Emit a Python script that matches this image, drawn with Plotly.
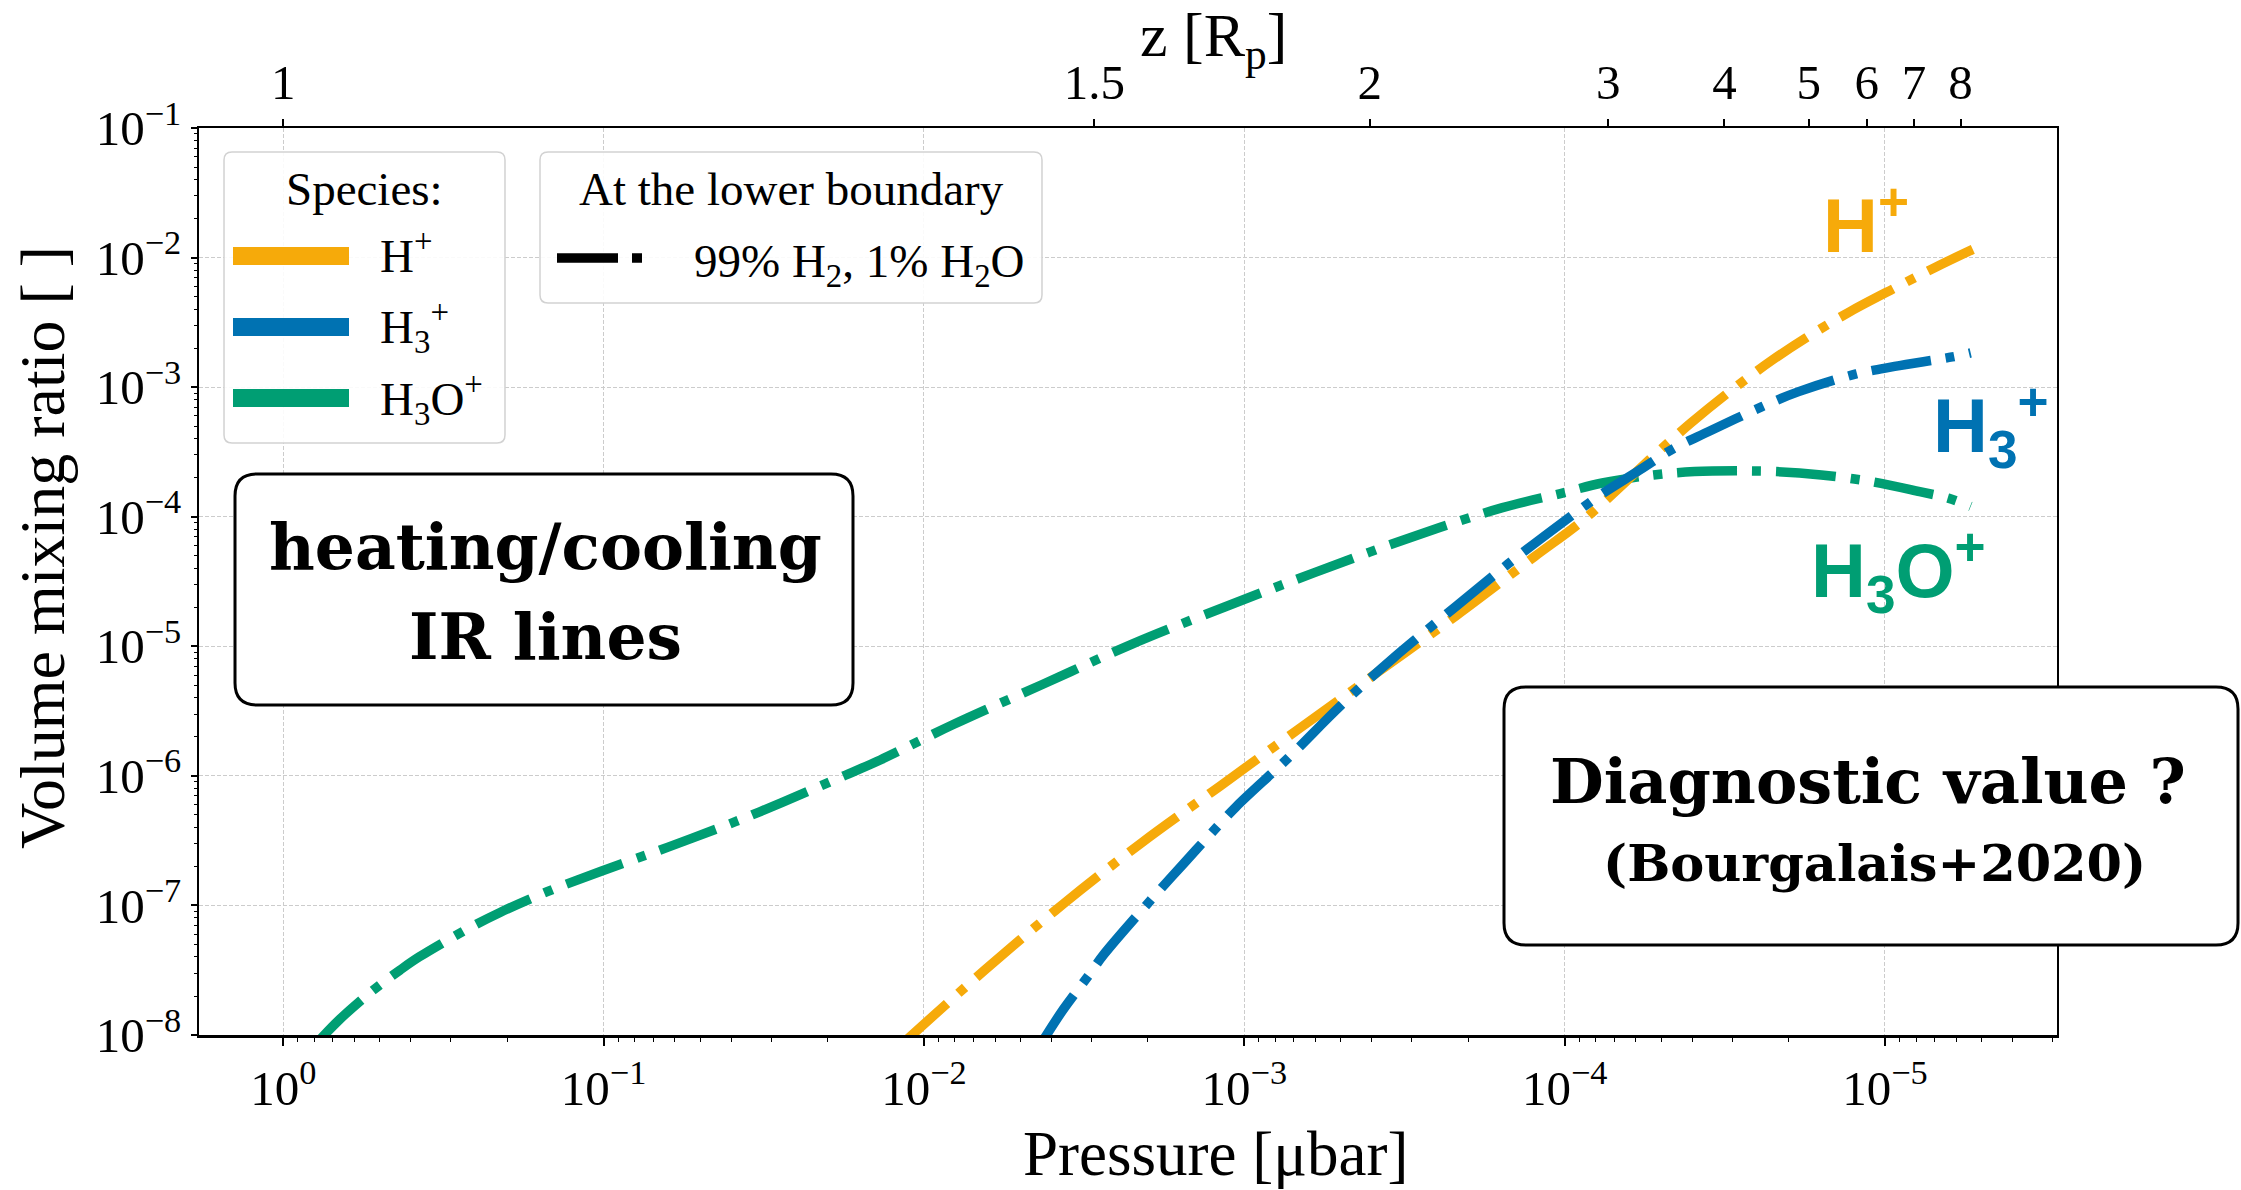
import plotly.graph_objects as go

# ---------------- data ----------------
# H3O+ (green)
p_h3o = [0.779, 0.667, 0.525, 0.432, 0.376, 0.267, 0.2105, 0.150, 0.1018, 0.0629, 0.0388, 0.0278,
         0.0180, 0.01369, 0.0081, 0.00427, 0.00225, 0.001146, 6.04e-4, 3.07e-4, 1.563e-4, 1.03e-4,
         7.63e-5, 5.28e-5, 3.93e-5, 2.92e-5, 2.18e-5, 1.58e-5, 1.108e-5, 7.79e-6, 6.35e-6, 5.40e-6]
vmr_h3o = [8.86e-9, 1.318e-8, 2.21e-8, 3.17e-8, 4.01e-8, 6.55e-8, 8.83e-8, 1.276e-7, 1.837e-7, 2.82e-7, 4.43e-7, 6.22e-7,
           9.88e-7, 1.327e-6, 2.49e-6, 5.07e-6, 1.035e-5, 2.02e-5, 3.70e-5, 6.83e-5, 1.175e-4, 1.51e-4,
           1.82e-4, 2.10e-4, 2.23e-4, 2.26e-4, 2.23e-4, 2.10e-4, 1.87e-4, 1.56e-4, 1.39e-4, 1.20e-4]

# H+ (orange)
p_hp = [1.169e-2, 6.45e-3, 3.67e-3, 2.09e-3, 1.187e-3, 6.78e-4, 3.85e-4, 2.19e-4, 1.245e-4, 8.87e-5,
        6.32e-5, 5.28e-5, 4.05e-5, 3.01e-5, 2.25e-5, 1.675e-5, 1.285e-5, 9.32e-6, 6.95e-6, 5.32e-6]
vmr_hp = [8.55e-9, 3.18e-8, 1.028e-7, 3.05e-7, 8.38e-7, 2.29e-6, 6.25e-6, 1.71e-5, 4.90e-5, 9.15e-5,
          1.945e-4, 2.94e-4, 5.25e-4, 9.50e-4, 1.614e-3, 2.60e-3, 3.83e-3, 5.82e-3, 8.43e-3, 1.157e-2]

# H3+ (blue)
p_h3p = [4.33e-3, 3.67e-3, 3.05e-3, 2.75e-3, 1.965e-3, 1.55e-3, 1.213e-3, 1.061e-3, 7.28e-4, 5.01e-4,
         3.44e-4, 2.19e-4, 1.503e-4, 1.03e-4, 7.73e-5, 5.93e-5, 4.55e-5, 3.55e-5, 2.42e-5, 1.86e-5,
         1.23e-5, 9.33e-6, 6.17e-6, 5.40e-6]
vmr_h3p = [8.4e-9, 1.58e-8, 2.92e-8, 4.16e-8, 1.09e-7, 2.09e-7, 4.06e-7, 5.77e-7, 1.38e-6, 3.47e-6,
           8.04e-6, 2.02e-5, 4.31e-5, 8.79e-5, 1.472e-4, 2.23e-4, 3.38e-4, 4.54e-4, 7.07e-4, 9.23e-4,
           1.264e-3, 1.445e-3, 1.710e-3, 1.837e-3]

# axis ticks
x_tick_vals = [1, 1e-1, 1e-2, 1e-3, 1e-4, 1e-5]
x_tick_text = ["10<sup>0</sup>", "10<sup>−1</sup>", "10<sup>−2</sup>", "10<sup>−3</sup>",
               "10<sup>−4</sup>", "10<sup>−5</sup>"]
y_tick_vals = [1e-8, 1e-7, 1e-6, 1e-5, 1e-4, 1e-3, 1e-2, 1e-1]
y_tick_text = ["10<sup>−8</sup>", "10<sup>−7</sup>", "10<sup>−6</sup>", "10<sup>−5</sup>",
               "10<sup>−4</sup>", "10<sup>−3</sup>", "10<sup>−2</sup>", "10<sup>−1</sup>"]
z_tick_labels = ["1", "1.5", "2", "3", "4", "5", "6", "7", "8"]
z_tick_pressure = [1.0, 2.94e-3, 4.06e-4, 7.31e-5, 3.17e-5, 1.73e-5, 1.14e-5, 8.11e-6, 5.81e-6]

species_names = ["H<sup>+</sup>", "H<sub>3</sub><sup>+</sup>", "H<sub>3</sub>O<sup>+</sup>"]
colors = {"hp": "#F6AA0A", "h3p": "#0072B2", "h3o": "#009E73"}

# ---------------- geometry ----------------
W, H = 2241, 1190
X0, X1, Y0, Y1 = 199, 2057, 128, 1035


def fx(x):
    return (x - X0) / (X1 - X0)


def fy(y):
    return (Y1 - y) / (Y1 - Y0)


def rrect(x0, y0, x1, y1, r):
    def P(x, y):
        return f"{fx(x):.5f},{fy(y):.5f}"
    return (f"M {P(x0 + r, y0)} L {P(x1 - r, y0)} Q {P(x1, y0)} {P(x1, y0 + r)} "
            f"L {P(x1, y1 - r)} Q {P(x1, y1)} {P(x1 - r, y1)} L {P(x0 + r, y1)} "
            f"Q {P(x0, y1)} {P(x0, y1 - r)} L {P(x0, y0 + r)} Q {P(x0, y0)} {P(x0 + r, y0)} Z")


DASH = "60px,15px,9px,15px"
LW = 9.5

fig = go.Figure()
for P, V, c, nm in [(p_h3o, vmr_h3o, colors["h3o"], "H3O+"),
                    (p_hp, vmr_hp, colors["hp"], "H+"),
                    (p_h3p, vmr_h3p, colors["h3p"], "H3+")]:
    fig.add_trace(go.Scatter(x=P, y=V, mode="lines", name=nm, showlegend=False, hoverinfo="skip",
                             line=dict(color=c, width=LW, dash=DASH, shape="spline", smoothing=1.0)))

# invisible trace on the top (z) axis
fig.add_trace(go.Scatter(x=z_tick_pressure, y=[None] * len(z_tick_pressure), xaxis="x2", yaxis="y",
                         mode="lines", showlegend=False, hoverinfo="skip"))

minor_x = [m * 10 ** k for k in range(-6, 1) for m in range(2, 10)]
minor_y = [m * 10 ** k for k in range(-8, -1) for m in range(2, 10)]

serif = "Liberation Serif"
tickfont = dict(family=serif, size=49, color="black")
grid = dict(showgrid=True, gridcolor="#cccccc", gridwidth=1, griddash="4px,2px")

fig.update_layout(
    width=W, height=H,
    margin=dict(l=X0, r=W - X1, t=Y0, b=H - Y1),
    paper_bgcolor="white", plot_bgcolor="white",
    showlegend=False,
    font=dict(family=serif, color="black"),
    xaxis=dict(type="log", range=[0.263, -5.537], tickmode="array", tickvals=x_tick_vals,
               ticktext=x_tick_text, ticks="outside", ticklen=8, tickwidth=1.5, tickcolor="black",
               showline=True, linecolor="black", linewidth=3, zeroline=False, tickfont=tickfont,
               minor=dict(tickmode="array", tickvals=minor_x, ticks="outside", ticklen=4,
                          tickcolor="black", tickwidth=1, showgrid=False), **grid),
    xaxis2=dict(type="log", overlaying="x", side="top", anchor="y", range=[0.263, -5.537],
                tickmode="array", tickvals=z_tick_pressure, ticktext=z_tick_labels,
                ticks="outside", ticklen=7, tickwidth=1.5, tickcolor="black",
                showline=True, linecolor="black", linewidth=2, showgrid=False, zeroline=False,
                tickfont=tickfont),
    yaxis=dict(type="log", range=[-8, -1], tickmode="array", tickvals=y_tick_vals, ticktext=y_tick_text,
               ticks="outside", ticklen=6, tickwidth=1.5, tickcolor="black",
               showline=True, linecolor="black", linewidth=2, mirror=True, zeroline=False,
               tickfont=tickfont,
               minor=dict(tickmode="array", tickvals=minor_y, ticks="outside", ticklen=3,
                          tickcolor="black", tickwidth=1, showgrid=False), **grid),
)

shapes = []
annos = []


def text(t, x, y, size, family=serif, color="black", xanchor="center", yanchor="middle", angle=0):
    annos.append(dict(text=t, x=fx(x), y=fy(y), xref="paper", yref="paper", showarrow=False,
                      xanchor=xanchor, yanchor=yanchor, textangle=angle,
                      font=dict(family=family, size=size, color=color)))


# legend boxes
shapes.append(dict(type="path", path=rrect(224, 152, 505, 443, 8), xref="paper", yref="paper",
                   line=dict(color="#d2d2d2", width=1.5), fillcolor="rgba(255,255,255,0.9)", layer="above"))
shapes.append(dict(type="path", path=rrect(540, 152, 1042, 303, 8), xref="paper", yref="paper",
                   line=dict(color="#d2d2d2", width=1.5), fillcolor="rgba(255,255,255,0.9)", layer="above"))
text("Species:", 364, 189, 47)
text("At the lower boundary", 791, 189, 47)
for name, c, yc, ym in [(species_names[0], colors["hp"], 256, 252.6),
                        (species_names[1], colors["h3p"], 327, 327),
                        (species_names[2], colors["h3o"], 398, 399)]:
    shapes.append(dict(type="line", x0=fx(233), x1=fx(349), y0=fy(yc), y1=fy(yc), xref="paper",
                       yref="paper", line=dict(color=c, width=18), layer="above"))
    text(name, 378, ym, 47, xanchor="left")
shapes.append(dict(type="line", x0=fx(557), x1=fx(642), y0=fy(258), y1=fy(258), xref="paper",
                   yref="paper", line=dict(color="black", width=9.5, dash="61px,14px,10px,200px"),
                   layer="above"))
text("99% H<sub>2</sub>, 1% H<sub>2</sub>O", 692, 264.5, 47, xanchor="left")

# text boxes
shapes.append(dict(type="path", path=rrect(235, 474, 853, 705, 22), xref="paper", yref="paper",
                   line=dict(color="black", width=3), fillcolor="white", layer="above"))
bold = "DejaVu Serif"
text("<b>heating/cooling</b>", 545, 547, 63, family=bold)
text("<b>IR lines</b>", 545, 637, 63, family=bold)
shapes.append(dict(type="path", path=rrect(1504, 687, 2238, 945, 22), xref="paper", yref="paper",
                   line=dict(color="black", width=3), fillcolor="white", layer="above"))
text("<b>Diagnostic value ?</b>", 1868, 781, 62, family=bold)
text("<b>(Bourgalais+2020)</b>", 1874, 863, 51, family=bold)

# species labels on the curves
sans = "Liberation Sans"
text("<b>H<sup>+</sup></b>", 1866, 220, 76, family=sans, color=colors["hp"])
text("<b>H<sub>3</sub><sup>+</sup></b>", 1991, 426, 76, family=sans, color=colors["h3p"])
text("<b>H<sub>3</sub>O<sup>+</sup></b>", 1898, 570, 76, family=sans, color=colors["h3o"])

# axis titles
text("Pressure [μbar]", 1215, 1154, 63)
text("z [R<sub>p</sub>]", 1213, 40, 62)
text("Volume mixing ratio [ ]", 42, 548, 64, angle=-90)

fig.update_layout(shapes=shapes, annotations=annos)
fig.write_html("out.html")
